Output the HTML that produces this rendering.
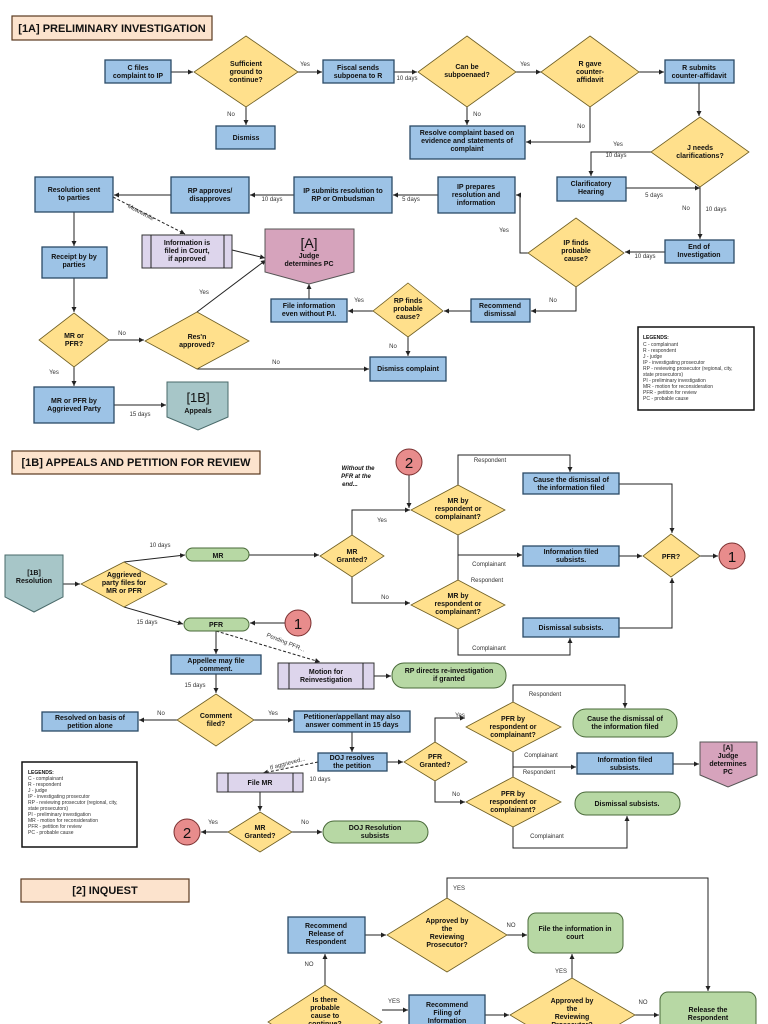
<!DOCTYPE html>
<html><head><meta charset="utf-8"><style>
html,body{margin:0;padding:0;background:#fff}
svg{display:block}
text{font-family:"Liberation Sans Narrow","Liberation Sans",sans-serif;font-size:7px;font-weight:bold;fill:#111}
.s{font-weight:normal;font-size:6px;fill:#333}
.b{fill:#9dc3e6;stroke:#2b4a66;stroke-width:1.3}
.d{fill:#ffe08c;stroke:#6d5d22;stroke-width:.8}
.g{fill:#b7d8a4;stroke:#4a6a3a;stroke-width:1}
.l{fill:#ddd5ec;stroke:#333;stroke-width:1}
.h{fill:#fce3cd;stroke:#5a3a20;stroke-width:1.2}
.c{stroke:#222;fill:none;stroke-width:1}
.k{stroke:#222;fill:none;stroke-width:1;stroke-dasharray:3,2}
.r{fill:#e88c8c;stroke:#7a3030;stroke-width:1}
.p{fill:#d6a3bc;stroke:#555;stroke-width:1}
.t{fill:#a7c6c8;stroke:#4a6a6a;stroke-width:1}
</style></head><body>
<svg width="768" height="1024" viewBox="0 0 768 1024" xmlns="http://www.w3.org/2000/svg">
<defs><marker id="a" markerWidth="6" markerHeight="6" refX="5" refY="3" orient="auto"><path d="M0,0.5 L5,3 L0,5.5z" fill="#222"/></marker></defs>
<g text-anchor="middle">
<!-- ===== 1A ===== -->
<rect class="h" x="12" y="16" width="200" height="24"/>
<text x="112" y="32" style="font-size:11px">[1A] PRELIMINARY INVESTIGATION</text>

<!-- connectors 1A -->
<g class="c" marker-end="url(#a)">
<path d="M171,72H193"/><path d="M298,72H322"/><path d="M246,107V125"/>
<path d="M394,72H417"/><path d="M516,72H541"/><path d="M467,107V125"/>
<path d="M590,107V142H526"/><path d="M639,72H664"/><path d="M699,83V116"/>
<path d="M651,152H591V176"/><path d="M700,187V239"/><path d="M626,188H700"/>
<path d="M665,252H625"/><path d="M528,253H520V195H516"/><path d="M576,287V311H531"/>
<path d="M438,195H393"/><path d="M294,195H250"/><path d="M171,195H114"/>
<path d="M232,250L265,258"/><path d="M74,212V246"/><path d="M74,278V312"/>
<path d="M109,340H144"/><path d="M197,312L266,260"/><path d="M197,369H369"/>
<path d="M471,311H444"/><path d="M373,311H348"/><path d="M408,337V356"/>
<path d="M309,299V284"/><path d="M74,367V386"/><path d="M114,405H166"/>
</g>
<path class="k" d="M113,197L185,234" marker-end="url(#a)"/>
<text class="s" x="305" y="66">Yes</text><text class="s" x="231" y="116">No</text>
<text class="s" x="407" y="80">10 days</text><text class="s" x="525" y="66">Yes</text>
<text class="s" x="477" y="116">No</text><text class="s" x="581" y="128">No</text>
<text class="s" x="618" y="146">Yes</text><text class="s" x="616" y="157">10 days</text>
<text class="s" x="686" y="210">No</text><text class="s" x="716" y="211">10 days</text>
<text class="s" x="654" y="197">5 days</text><text class="s" x="645" y="258">10 days</text>
<text class="s" x="504" y="232">Yes</text><text class="s" x="553" y="302">No</text>
<text class="s" x="411" y="201">5 days</text><text class="s" x="272" y="201">10 days</text>
<text class="s" x="140" y="214" transform="rotate(28 140 214)">Meanwhile</text>
<text class="s" x="204" y="294">Yes</text><text class="s" x="122" y="335">No</text>
<text class="s" x="276" y="364">No</text><text class="s" x="359" y="302">Yes</text>
<text class="s" x="393" y="348">No</text><text class="s" x="54" y="374">Yes</text>
<text class="s" x="140" y="416">15 days</text>

<!-- nodes 1A -->
<rect class="b" x="105" y="60" width="66" height="23"/><text x="138" y="70">C files<tspan x="138" dy="8">complaint to IP</tspan></text>
<polygon class="d" points="246,36 298,72 246,107 194,72"/><text x="246" y="66">Sufficient<tspan x="246" dy="8">ground to</tspan><tspan x="246" dy="8">continue?</tspan></text>
<rect class="b" x="323" y="60" width="71" height="23"/><text x="358" y="70">Fiscal sends<tspan x="358" dy="8">subpoena to R</tspan></text>
<polygon class="d" points="467,36 516,72 467,107 418,72"/><text x="467" y="69">Can be<tspan x="467" dy="8">subpoenaed?</tspan></text>
<polygon class="d" points="590,36 639,72 590,107 541,72"/><text x="590" y="66">R gave<tspan x="590" dy="8">counter-</tspan><tspan x="590" dy="8">affidavit</tspan></text>
<rect class="b" x="665" y="60" width="69" height="23"/><text x="699" y="70">R submits<tspan x="699" dy="8">counter-affidavit</tspan></text>
<rect class="b" x="216" y="126" width="59" height="23"/><text x="246" y="140">Dismiss</text>
<rect class="b" x="410" y="126" width="115" height="33"/><text x="467" y="135">Resolve complaint based on<tspan x="467" dy="8">evidence and statements of</tspan><tspan x="467" dy="8">complaint</tspan></text>
<polygon class="d" points="700,117 749,152 700,187 651,152"/><text x="700" y="150">J needs<tspan x="700" dy="8">clarifications?</tspan></text>
<rect class="b" x="557" y="177" width="69" height="24"/><text x="591" y="186">Clarificatory<tspan x="591" dy="8">Hearing</tspan></text>
<rect class="b" x="665" y="240" width="69" height="23"/><text x="699" y="249">End of<tspan x="699" dy="8">Investigation</tspan></text>
<polygon class="d" points="576,218 624,253 576,287 528,253"/><text x="576" y="245">IP finds<tspan x="576" dy="8">probable</tspan><tspan x="576" dy="8">cause?</tspan></text>
<rect class="b" x="438" y="177" width="77" height="36"/><text x="476" y="189">IP prepares<tspan x="476" dy="8">resolution and</tspan><tspan x="476" dy="8">information</tspan></text>
<rect class="b" x="294" y="177" width="98" height="36"/><text x="343" y="193">IP submits resolution to<tspan x="343" dy="8">RP or Ombudsman</tspan></text>
<rect class="b" x="171" y="177" width="78" height="36"/><text x="210" y="193">RP approves/<tspan x="210" dy="8">disapproves</tspan></text>
<rect class="b" x="35" y="177" width="78" height="35"/><text x="74" y="192">Resolution sent<tspan x="74" dy="8">to parties</tspan></text>
<rect class="l" x="142" y="235" width="90" height="33"/><line class="c" x1="151" y1="235" x2="151" y2="268"/><line class="c" x1="224" y1="235" x2="224" y2="268"/>
<text x="187" y="245">Information is<tspan x="187" dy="8">filed in Court,</tspan><tspan x="187" dy="8">if approved</tspan></text>
<polygon class="p" points="265,229 354,229 354,272 309,284 265,272"/><text x="309" y="248" style="font-size:14px;font-weight:normal">[A]</text><text x="309" y="258">Judge<tspan x="309" dy="8">determines PC</tspan></text>
<rect class="b" x="42" y="247" width="65" height="31"/><text x="74" y="259">Receipt by by<tspan x="74" dy="8">parties</tspan></text>
<polygon class="d" points="408,283 443,311 408,337 373,311"/><text x="408" y="303">RP finds<tspan x="408" dy="8">probable</tspan><tspan x="408" dy="8">cause?</tspan></text>
<rect class="b" x="471" y="299" width="59" height="23"/><text x="500" y="308">Recommend<tspan x="500" dy="8">dismissal</tspan></text>
<rect class="b" x="271" y="299" width="76" height="23"/><text x="309" y="308">File information<tspan x="309" dy="8">even without P.I.</tspan></text>
<polygon class="d" points="74,313 109,340 74,367 39,340"/><text x="74" y="338">MR or<tspan x="74" dy="8">PFR?</tspan></text>
<polygon class="d" points="197,312 249,341 197,369 145,341"/><text x="197" y="339">Res'n<tspan x="197" dy="8">approved?</tspan></text>
<rect class="b" x="370" y="357" width="76" height="24"/><text x="408" y="371">Dismiss complaint</text>
<rect class="b" x="34" y="387" width="80" height="36"/><text x="74" y="403">MR or PFR by<tspan x="74" dy="8">Aggrieved Party</tspan></text>
<polygon class="t" points="167,382 228,382 228,417 198,430 167,417"/><text x="198" y="402" style="font-size:13px;font-weight:normal">[1B]</text><text x="198" y="413">Appeals</text>
</g>
<rect x="638" y="327" width="116" height="83" fill="#fff" stroke="#111" stroke-width="1.5"/>
<g class="s" style="font-size:5px">
<text x="643" y="339" style="font-weight:bold;font-size:5px">LEGENDS:</text>
<text x="643" y="346" class="s" style="font-size:5px">C - complainant</text>
<text x="643" y="352" class="s" style="font-size:5px">R - respondent</text>
<text x="643" y="358" class="s" style="font-size:5px">J - judge</text>
<text x="643" y="364" class="s" style="font-size:5px">IP - investigating prosecutor</text>
<text x="643" y="370" class="s" style="font-size:5px">RP - reviewing prosecutor (regional, city,</text>
<text x="643" y="376" class="s" style="font-size:5px">state prosecutors)</text>
<text x="643" y="382" class="s" style="font-size:5px">PI - preliminary investigation</text>
<text x="643" y="388" class="s" style="font-size:5px">MR - motion for reconsideration</text>
<text x="643" y="394" class="s" style="font-size:5px">PFR - petition for review</text>
<text x="643" y="400" class="s" style="font-size:5px">PC - probable cause</text>
</g>

<!-- ===== 1B ===== -->
<g text-anchor="middle">
<rect class="h" x="12" y="451" width="248" height="23"/>
<text x="136" y="466" style="font-size:11px">[1B] APPEALS AND PETITION FOR REVIEW</text>
<g class="c" marker-end="url(#a)">
<path d="M63,584H80"/><path d="M124,562L185,555"/><path d="M124,607L183,624"/>
<path d="M249,555H319"/><path d="M352,535V510H410"/><path d="M352,577V603H410"/>
<path d="M409,475V508"/><path d="M458,485V455H570V472"/><path d="M458,555H522"/>
<path d="M458,629V655H570V638"/><path d="M619,484H672V533"/><path d="M619,556H642"/>
<path d="M619,628H672V578"/><path d="M700,556H718"/><path d="M285,623H250"/>
<path d="M216,631V654"/><path d="M216,674V693"/><path d="M177,720H139"/>
<path d="M254,720H293"/><path d="M352,732V752"/><path d="M387,762H403"/>
<path d="M260,792V811"/><path d="M228,832H201"/><path d="M292,832H322"/>
<path d="M435,742V718H465"/><path d="M435,781V802H465"/><path d="M513,702V685H625V708"/>
<path d="M513,767H576"/><path d="M513,827V848H627V816"/><path d="M673,764H699"/>
<path d="M374,676H391"/>
</g>
<path class="c" d="M458,535V580"/><path class="c" d="M513,752V777"/>
<path class="k" d="M216,631L320,662" marker-end="url(#a)"/>
<path class="k" d="M318,762L263,773" marker-end="url(#a)"/>
<text class="s" x="160" y="547">10 days</text><text class="s" x="147" y="624">15 days</text>
<text class="s" x="382" y="522">Yes</text><text class="s" x="385" y="599">No</text>
<text class="s" x="490" y="462">Respondent</text><text class="s" x="489" y="566">Complainant</text>
<text class="s" x="487" y="582">Respondent</text><text class="s" x="489" y="650">Complainant</text>
<text class="s" x="285" y="644" transform="rotate(22 285 644)">Pending PFR...</text>
<text class="s" x="195" y="687">15 days</text><text class="s" x="161" y="715">No</text>
<text class="s" x="273" y="715">Yes</text><text class="s" x="288" y="765" transform="rotate(-15 288 765)">If aggrieved...</text>
<text class="s" x="320" y="781">10 days</text><text class="s" x="213" y="824">Yes</text>
<text class="s" x="305" y="824">No</text><text class="s" x="460" y="717">Yes</text>
<text class="s" x="456" y="796">No</text><text class="s" x="545" y="696">Respondent</text>
<text class="s" x="541" y="757">Complainant</text><text class="s" x="539" y="774">Respondent</text>
<text class="s" x="547" y="838">Complainant</text>
<text x="358" y="470" style="font-style:italic;font-size:6px">Without the</text>
<text x="356" y="478" style="font-style:italic;font-size:6px">PFR at the</text>
<text x="350" y="486" style="font-style:italic;font-size:6px">end...</text>

<polygon class="t" points="5,555 63,555 63,597 34,612 5,597"/><text x="34" y="575">[1B]<tspan x="34" dy="8">Resolution</tspan></text>
<polygon class="d" points="124,562 167,584 124,607 81,584"/><text x="124" y="577">Aggrieved<tspan x="124" dy="8">party files for</tspan><tspan x="124" dy="8">MR or PFR</tspan></text>
<rect class="g" x="186" y="548" width="63" height="13" rx="6.5"/><text x="218" y="558">MR</text>
<polygon class="d" points="352,535 384,556 352,577 320,556"/><text x="352" y="554">MR<tspan x="352" dy="8">Granted?</tspan></text>
<circle class="r" cx="409" cy="462" r="13"/><text x="409" y="468" style="font-size:15px;font-weight:normal">2</text>
<polygon class="d" points="458,485 505,510 458,535 411,510"/><text x="458" y="503">MR by<tspan x="458" dy="8">respondent or</tspan><tspan x="458" dy="8">complainant?</tspan></text>
<rect class="b" x="523" y="473" width="96" height="21"/><text x="571" y="482">Cause the dismissal of<tspan x="571" dy="8">the information filed</tspan></text>
<rect class="b" x="523" y="546" width="96" height="20"/><text x="571" y="554">Information filed<tspan x="571" dy="8">subsists.</tspan></text>
<polygon class="d" points="671,534 700,556 671,577 643,556"/><text x="671" y="559">PFR?</text>
<circle class="r" cx="732" cy="556" r="13"/><text x="732" y="562" style="font-size:15px;font-weight:normal">1</text>
<polygon class="d" points="458,580 505,605 458,629 411,605"/><text x="458" y="598">MR by<tspan x="458" dy="8">respondent or</tspan><tspan x="458" dy="8">complainant?</tspan></text>
<rect class="b" x="523" y="618" width="96" height="19"/><text x="571" y="630">Dismissal subsists.</text>
<rect class="g" x="184" y="618" width="65" height="13" rx="6.5"/><text x="216" y="627">PFR</text>
<circle class="r" cx="298" cy="623" r="13"/><text x="298" y="629" style="font-size:15px;font-weight:normal">1</text>
<rect class="b" x="171" y="655" width="90" height="19"/><text x="216" y="663">Appellee may file<tspan x="216" dy="8">comment.</tspan></text>
<rect class="l" x="278" y="663" width="96" height="26"/><line class="c" x1="289" y1="663" x2="289" y2="689"/><line class="c" x1="363" y1="663" x2="363" y2="689"/>
<text x="326" y="674">Motion for<tspan x="326" dy="8">Reinvestigation</tspan></text>
<rect class="g" x="392" y="663" width="114" height="25" rx="12"/><text x="449" y="673">RP directs re-investigation<tspan x="449" dy="8">if granted</tspan></text>
<polygon class="d" points="216,694 254,720 216,746 177,720"/><text x="216" y="718">Comment<tspan x="216" dy="8">filed?</tspan></text>
<rect class="b" x="42" y="712" width="96" height="19"/><text x="90" y="720">Resolved on basis of<tspan x="90" dy="8">petition alone</tspan></text>
<rect class="b" x="294" y="711" width="116" height="21"/><text x="352" y="719">Petitioner/appellant may also<tspan x="352" dy="8">answer comment in 15 days</tspan></text>
<rect class="b" x="318" y="753" width="69" height="18"/><text x="352" y="760">DOJ resolves<tspan x="352" dy="8">the petition</tspan></text>
<polygon class="d" points="435,742 467,762 435,781 404,762"/><text x="435" y="759">PFR<tspan x="435" dy="8">Granted?</tspan></text>
<polygon class="d" points="513,702 561,727 513,752 466,727"/><text x="513" y="721">PFR by<tspan x="513" dy="8">respondent or</tspan><tspan x="513" dy="8">complainant?</tspan></text>
<rect class="g" x="573" y="709" width="104" height="28" rx="13"/><text x="625" y="721">Cause the dismissal of<tspan x="625" dy="8">the information filed</tspan></text>
<rect class="b" x="577" y="753" width="96" height="21"/><text x="625" y="762">Information filed<tspan x="625" dy="8">subsists.</tspan></text>
<polygon class="p" points="700,742 757,742 757,775 728,787 700,775"/><text x="728" y="750">[A]<tspan x="728" dy="8">Judge</tspan><tspan x="728" dy="8">determines</tspan><tspan x="728" dy="8">PC</tspan></text>
<polygon class="d" points="513,777 561,802 513,827 466,802"/><text x="513" y="796">PFR by<tspan x="513" dy="8">respondent or</tspan><tspan x="513" dy="8">complainant?</tspan></text>
<rect class="g" x="575" y="792" width="105" height="23" rx="11"/><text x="627" y="806">Dismissal subsists.</text>
<rect class="l" x="217" y="773" width="86" height="19"/><line class="c" x1="228" y1="773" x2="228" y2="792"/><line class="c" x1="293" y1="773" x2="293" y2="792"/>
<text x="260" y="785">File MR</text>
<polygon class="d" points="260,812 292,832 260,852 228,832"/><text x="260" y="830">MR<tspan x="260" dy="8">Granted?</tspan></text>
<circle class="r" cx="187" cy="832" r="13"/><text x="187" y="838" style="font-size:15px;font-weight:normal">2</text>
<rect class="g" x="323" y="821" width="105" height="22" rx="11"/><text x="375" y="830">DOJ Resolution<tspan x="375" dy="8">subsists</tspan></text>
</g>
<rect x="22" y="762" width="115" height="85" fill="#fff" stroke="#111" stroke-width="1.5"/>
<g style="font-size:5px">
<text x="28" y="774" style="font-size:5px">LEGENDS:</text>
<text x="28" y="780" class="s" style="font-size:5px">C - complainant</text>
<text x="28" y="786" class="s" style="font-size:5px">R - respondent</text>
<text x="28" y="792" class="s" style="font-size:5px">J - judge</text>
<text x="28" y="798" class="s" style="font-size:5px">IP - investigating prosecutor</text>
<text x="28" y="804" class="s" style="font-size:5px">RP - reviewing prosecutor (regional, city,</text>
<text x="28" y="810" class="s" style="font-size:5px">state prosecutors)</text>
<text x="28" y="816" class="s" style="font-size:5px">PI - preliminary investigation</text>
<text x="28" y="822" class="s" style="font-size:5px">MR - motion for reconsideration</text>
<text x="28" y="828" class="s" style="font-size:5px">PFR - petition for review</text>
<text x="28" y="834" class="s" style="font-size:5px">PC - probable cause</text>
</g>

<!-- ===== 2 ===== -->
<g text-anchor="middle">
<rect class="h" x="21" y="879" width="168" height="23"/>
<text x="105" y="894" style="font-size:11px">[2] INQUEST</text>
<g class="c" marker-end="url(#a)">
<path d="M365,935H386"/><path d="M507,935H527"/><path d="M325,985V954"/>
<path d="M382,1010H408"/><path d="M485,1015H509"/><path d="M572,978V954"/>
<path d="M635,1015H659"/><path d="M447,898V878H708V991"/>
</g>
<text class="s" x="459" y="890">YES</text><text class="s" x="511" y="927">NO</text>
<text class="s" x="309" y="966">NO</text><text class="s" x="394" y="1003">YES</text>
<text class="s" x="561" y="973">YES</text><text class="s" x="643" y="1004">NO</text>
<rect class="b" x="288" y="917" width="77" height="36"/><text x="326" y="928">Recommend<tspan x="326" dy="8">Release of</tspan><tspan x="326" dy="8">Respondent</tspan></text>
<polygon class="d" points="447,898 507,935 447,972 387,935"/><text x="447" y="923">Approved by<tspan x="447" dy="8">the</tspan><tspan x="447" dy="8">Reviewing</tspan><tspan x="447" dy="8">Prosecutor?</tspan></text>
<rect class="g" x="528" y="913" width="95" height="40" rx="8"/><text x="575" y="931">File the information in<tspan x="575" dy="8">court</tspan></text>
<polygon class="d" points="325,985 382,1022 325,1059 268,1022"/><text x="325" y="1002">Is there<tspan x="325" dy="8">probable</tspan><tspan x="325" dy="8">cause to</tspan><tspan x="325" dy="8">continue?</tspan></text>
<rect class="b" x="409" y="995" width="76" height="45"/><text x="447" y="1007">Recommend<tspan x="447" dy="8">Filing of</tspan><tspan x="447" dy="8">Information</tspan></text>
<polygon class="d" points="572,978 635,1015 572,1052 510,1015"/><text x="572" y="1003">Approved by<tspan x="572" dy="8">the</tspan><tspan x="572" dy="8">Reviewing</tspan><tspan x="572" dy="8">Prosecutor?</tspan></text>
<rect class="g" x="660" y="992" width="96" height="50" rx="8"/><text x="708" y="1012">Release the<tspan x="708" dy="8">Respondent</tspan></text>
</g>
</svg>
</body></html>
